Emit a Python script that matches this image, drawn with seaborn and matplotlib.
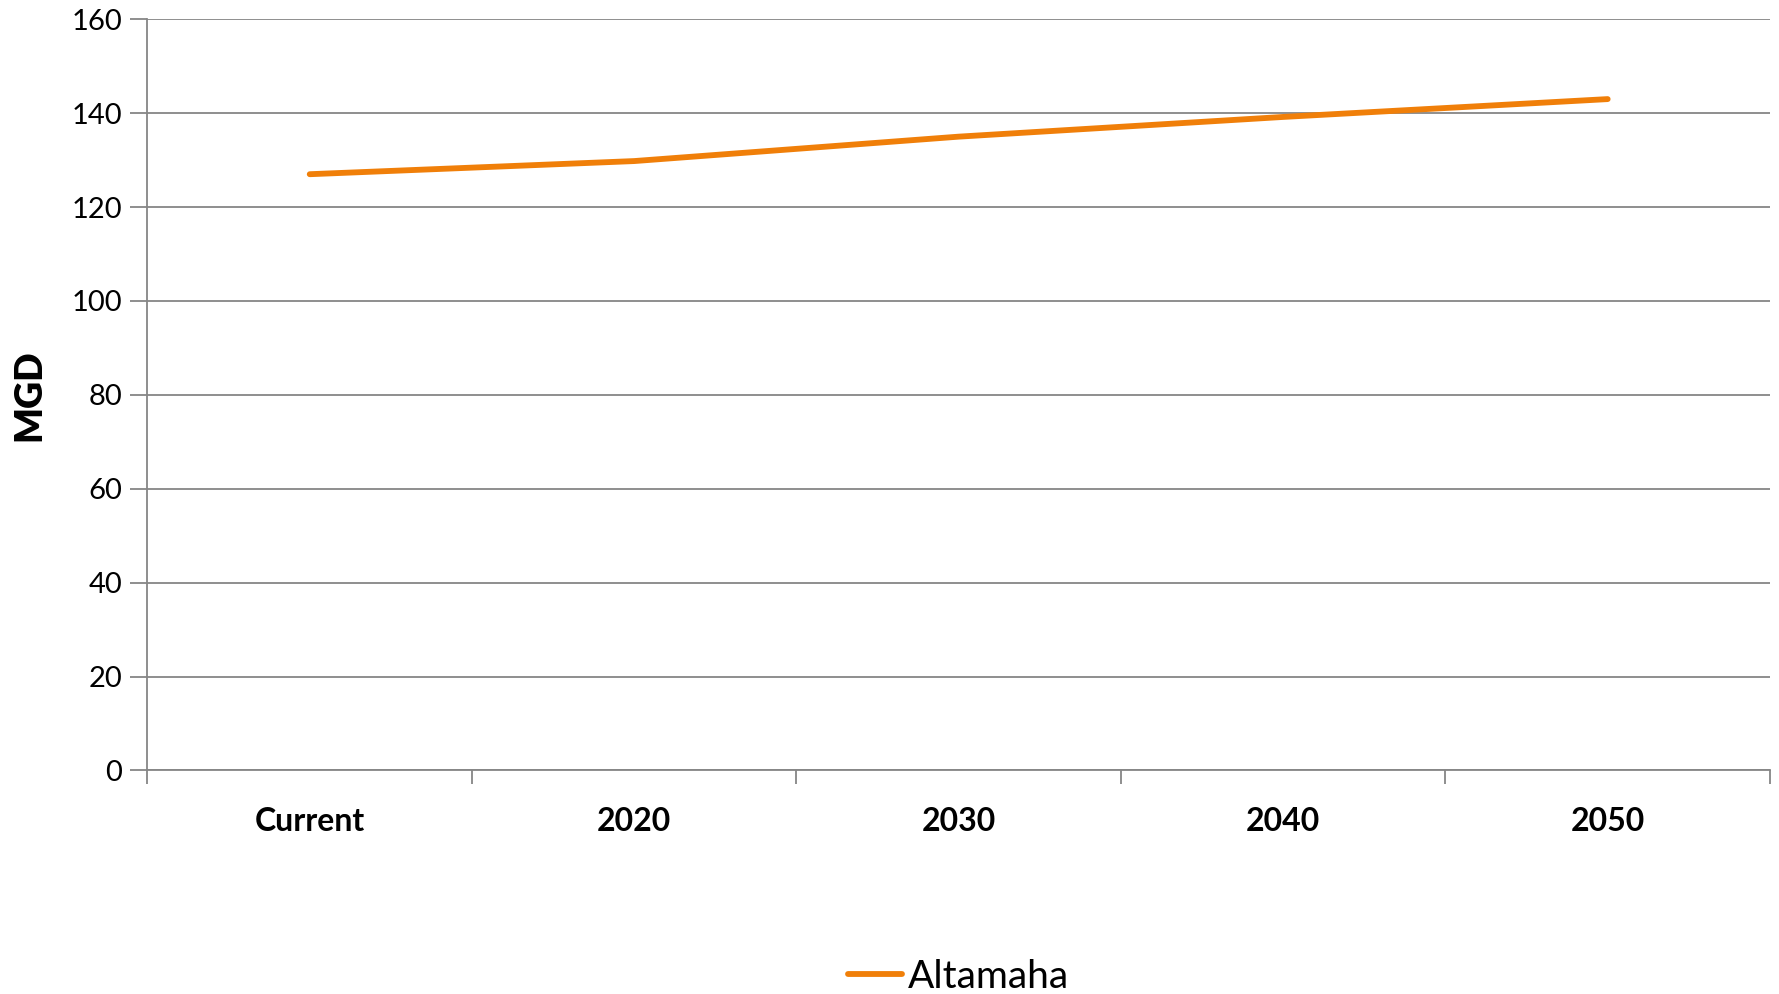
import pandas as pd
import matplotlib
matplotlib.use("Agg")
import matplotlib.pyplot as plt
import seaborn as sns
import numpy as np

periods = ["Current", "2020", "2030", "2040", "2050"]
altamaha = [127, 129.8, 135, 139.2, 143]

df = pd.DataFrame({"period": periods, "MGD": altamaha, "basin": "Altamaha"})

sns.set_style("white")
plt.rcParams['font.family'] = ['Lato', 'DejaVu Sans']
plt.rcParams['text.color'] = 'black'
plt.rcParams['axes.labelcolor'] = 'black'
plt.rcParams['xtick.color'] = 'black'
plt.rcParams['ytick.color'] = 'black'

fig = plt.figure(figsize=(17.79, 9.94), dpi=100)
ax = fig.add_axes([0.0829, 0.2249, 0.912, 0.7557])

df["x"] = np.arange(len(periods))
sns.lineplot(data=df, x="x", y="MGD", hue="basin", palette=["#F07F09"],
             linewidth=4.2, ax=ax, solid_capstyle="round")

ax.set_xlim(-0.5, len(periods) - 0.5)
ax.set_ylim(0, 160)
ax.set_yticks(range(0, 161, 20))
ax.yaxis.grid(True, color="#868686", linewidth=1.3)
ax.set_axisbelow(True)

# category boundaries get tick marks, labels sit at centres
ax.set_xticks(np.arange(-0.5, len(periods), 1.0))
ax.set_xticklabels([])
ax.set_xticks(np.arange(len(periods)), minor=True)
ax.set_xticklabels(periods, minor=True, fontsize=23, fontweight="bold")
ax.tick_params(axis="x", which="major", direction="out", length=10, width=1.3, color="#868686", bottom=True)
ax.tick_params(axis="x", which="minor", length=0, pad=26)
ax.tick_params(axis="y", direction="out", length=12, width=1.3, color="#868686", left=True, labelsize=21, pad=6)

for s in ["top", "right"]:
    ax.spines[s].set_visible(False)
for s in ["left", "bottom"]:
    ax.spines[s].set_color("#868686")
    ax.spines[s].set_linewidth(1.3)

ax.set_xlabel("")
ax.set_ylabel("MGD", fontsize=27, fontweight="heavy", labelpad=18)

ax.legend(loc="lower center", bbox_to_anchor=(0.5, -0.33), frameon=False,
          fontsize=28, handlelength=1.4, handletextpad=0.15, borderpad=0.1)

fig.savefig("out.png", dpi=100)
